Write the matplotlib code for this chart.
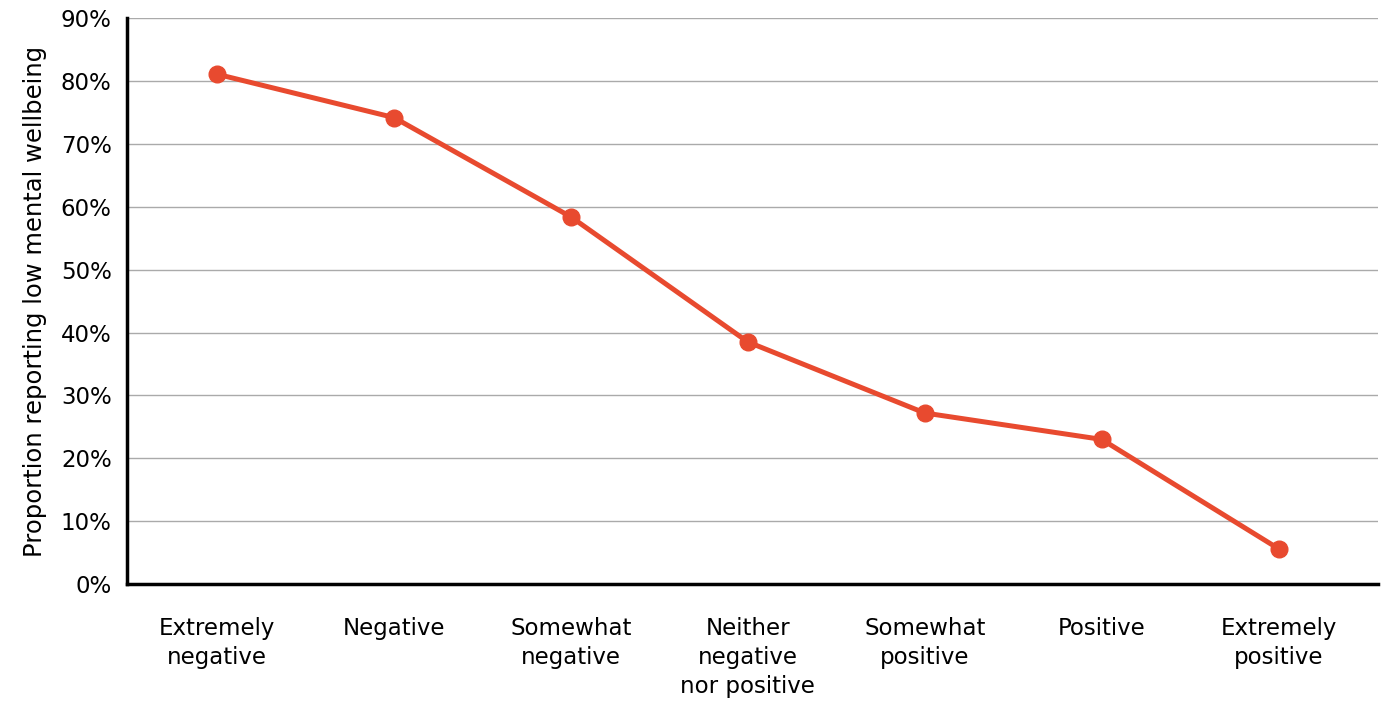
import numpy as np
from matplotlib import pyplot as plt
from matplotlib.ticker import PercentFormatter

# data
categories = ['Extremely\nnegative', 'Negative', 'Somewhat\nnegative',
              'Neither\nnegative\nnor positive', 'Somewhat\npositive',
              'Positive', 'Extremely\npositive']
low_wellbeing = [81.1, 74.2, 58.4, 38.5, 27.2, 23.0, 5.6]
y_ticks = [0, 10, 20, 30, 40, 50, 60, 70, 80, 90]

plt.rcParams['font.family'] = ['DejaVu Sans']
fig = plt.figure(figsize=(13.86, 7.04), dpi=100)
ax = fig.add_axes([0.0916, 0.1705, 0.9024, 0.8035])

x = np.arange(len(categories))
ax.plot(x, low_wellbeing, color='#e84a2f', lw=3.6, marker='o', ms=12, zorder=3)

ax.set_xlim(-0.51, 6.56)
ax.set_ylim(0, 90)
ax.set_yticks(y_ticks)
ax.yaxis.set_major_formatter(PercentFormatter(decimals=0))
ax.set_xticks(x)
ax.set_xticklabels(categories, fontsize=16.5, linespacing=1.32)
ax.tick_params(axis='y', labelsize=16.5, length=0, pad=11)
ax.tick_params(axis='x', length=0, pad=24)
ax.grid(axis='y', color='#aaaaaa', lw=1)
ax.set_axisbelow(True)
for s in ['top', 'right']:
    ax.spines[s].set_visible(False)
for s in ['left', 'bottom']:
    ax.spines[s].set_linewidth(2.5)
ax.set_ylabel('Proportion reporting low mental wellbeing', fontsize=17.5, labelpad=10)

fig.savefig('out.png', dpi=100)
